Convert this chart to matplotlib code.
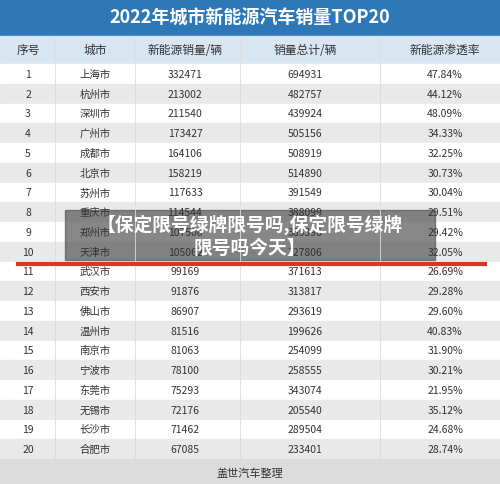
import matplotlib.pyplot as plt
from matplotlib.patches import Rectangle
plt.rcParams['font.family'] = ['Noto Sans CJK SC', 'DejaVu Sans']

title = "2022年城市新能源汽车销量TOP20"
headers = ["序号", "城市", "新能源销量/辆", "销量总计/辆", "新能源渗透率"]
cities = ["上海市","杭州市","深圳市","广州市","成都市","北京市","苏州市","重庆市","郑州市","天津市",
          "武汉市","西安市","佛山市","温州市","南京市","宁波市","东莞市","无锡市","长沙市","合肥市"]
nev = [332471,213002,211540,173427,164106,158219,117633,114544,107500,105062,
       99169,91876,86907,81516,81063,78100,75293,72176,71462,67085]
total = [694931,482757,439924,505156,508919,514890,391549,388099,365396,327806,
         371613,313817,293619,199626,254099,258555,343074,205540,289504,233401]
rate = ["47.84%","44.12%","48.09%","34.33%","32.25%","30.73%","30.04%","29.51%","29.42%","32.05%",
        "26.69%","29.28%","29.60%","40.83%","31.90%","30.21%","21.95%","35.12%","24.68%","28.74%"]
footer = "盖世汽车整理"
banner = ["【保定限号绿牌限号吗,保定限号绿牌", "限号吗今天】"]

W, H = 500, 485
fig = plt.figure(figsize=(W/100, H/100), dpi=100)
ax = fig.add_axes([0, 0, 1, 1])
ax.set_xlim(0, W); ax.set_ylim(H, 0); ax.axis('off')
ax.add_patch(Rectangle((0, 0), W, H, color='#f2f2f2'))
ax.add_patch(Rectangle((0, 0), W, 36, color='#2f78b8'))
ax.text(250, 18, title, color='white', fontsize=13, fontweight='bold', ha='center', va='center')
ax.add_patch(Rectangle((0, 37), W, 27, color='#d8e6f2'))
colx = [28, 95, 185, 305, 445]
for x, h in zip(colx, headers):
    ax.text(x, 50.5, h, fontsize=8.5, ha='center', va='center', color='#333333')
y0, rh = 65, 19.75
for i in range(len(cities)):
    y = y0 + i*rh
    ax.add_patch(Rectangle((0, y), W, rh, color='#ffffff' if i % 2 == 0 else '#e9e9e9'))
    vals = [str(i+1), cities[i], str(nev[i]), str(total[i]), rate[i]]
    for x, v in zip(colx, vals):
        ax.text(x, y + rh/2, v, fontsize=7.5, ha='center', va='center', color='#333333')
for x in [55, 135, 240, 380]:
    ax.plot([x, x], [37, y0 + 20*rh], color='#dddddd', lw=0.6)
ax.add_patch(Rectangle((0, y0 + 20*rh), W, H - y0 - 20*rh, color='#dcdcdc'))
ax.text(250, 474, footer, fontsize=8, ha='center', va='center', color='#333333')
ax.plot([18, 485], [265, 265], color='#d9361e', lw=3)
ax.add_patch(Rectangle((65, 211), 370, 50, color='#555555', alpha=0.7))
ax.text(250, 225, banner[0], fontsize=13.5, fontweight='bold', ha='center', va='center', color='white')
ax.text(250, 248, banner[1], fontsize=13.5, fontweight='bold', ha='center', va='center', color='white')
fig.savefig('out.png', dpi=100)
